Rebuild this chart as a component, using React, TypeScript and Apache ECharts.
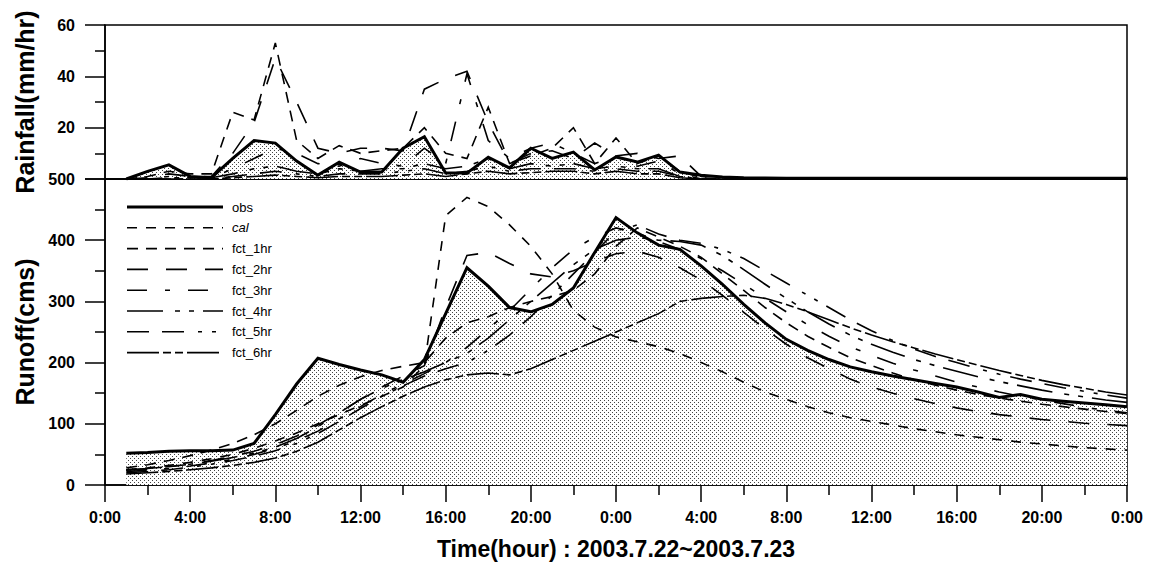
import React, { useEffect, useRef } from "react";
import * as echarts from "echarts";

// Hourly time steps (hour 1 .. hour 48) over 2003.7.22 ~ 2003.7.23
const HOURS: number[] = Array.from({ length: 48 }, (_, i) => i + 1);

// Observed rainfall (mm/hr)
const rainObs = [0, 3, 5.5, 1, 0.5, 8, 15, 14, 7, 1.5, 6.5, 2.7, 2.7, 12, 16.5, 2.3, 2.3, 8.5, 4.3, 12, 8, 10.5, 3.5, 8.6, 6.6, 9.3, 2.7, 1.5, 0.8, 0.5, 0.4, 0.3, 0.3, 0.3, 0.3, 0.3, 0.3, 0.3, 0.3, 0.3, 0.3, 0.3, 0.3, 0.3, 0.3, 0.3, 0.3, 0.3];
// Forecast rainfall by lead time (mm/hr)
const rainFct1 = [0, 1, 3, 2, 2, 26, 23, 53, 15, 8, 13, 10, 11, 12, 20, 10, 8, 28, 6, 9, 12, 20, 6, 16, 6, 9, 3, 0.5, 0, 0, 0, 0, 0, 0, 0, 0, 0, 0, 0, 0, 0, 0, 0, 0, 0, 0, 0, 0];
const rainFct2 = [0, 0.5, 2, 1, 1, 10, 22, 47, 30, 12, 10, 12, 12, 11, 35, 39, 42, 22, 6, 10, 11, 8, 14, 9, 10, 8, 9, 1, 0, 0, 0, 0, 0, 0, 0, 0, 0, 0, 0, 0, 0, 0, 0, 0, 0, 0, 0, 0];
const rainFct3 = [0, 0, 1, 0.5, 0.5, 4, 8, 12, 10, 6, 5, 8, 6, 5, 12, 6, 41, 15, 8, 12, 14, 10, 6, 9, 5, 7, 2, 0, 0, 0, 0, 0, 0, 0, 0, 0, 0, 0, 0, 0, 0, 0, 0, 0, 0, 0, 0, 0];
const rainFct4 = [0, 0, 0.5, 0.5, 0.5, 2, 4, 5, 3, 2, 4, 3, 4, 4, 6, 4, 5, 8, 4, 6, 5, 6, 4, 5, 4, 4, 1, 0, 0, 0, 0, 0, 0, 0, 0, 0, 0, 0, 0, 0, 0, 0, 0, 0, 0, 0, 0, 0];
const rainFct5 = [0, 0, 0, 0, 0, 1, 2, 3, 2, 1, 2, 2, 2, 3, 4, 2, 3, 5, 3, 4, 4, 4, 3, 4, 3, 3, 1, 0, 0, 0, 0, 0, 0, 0, 0, 0, 0, 0, 0, 0, 0, 0, 0, 0, 0, 0, 0, 0];
const rainFct6 = [0, 0, 0, 0, 0, 0.5, 1, 1.5, 1, 0.5, 1, 1, 1, 1.5, 2, 1, 2, 3, 2, 2.5, 3, 3, 2, 3, 2, 2, 0.5, 0, 0, 0, 0, 0, 0, 0, 0, 0, 0, 0, 0, 0, 0, 0, 0, 0, 0, 0, 0, 0];

// Runoff (cms)
const runoffObs = [52, 53, 55, 56, 56, 57, 68, 115, 165, 207, 197, 188, 180, 168, 205, 280, 355, 325, 290, 283, 295, 322, 380, 437, 412, 392, 385, 358, 328, 295, 265, 238, 220, 205, 193, 185, 178, 172, 166, 160, 152, 143, 148, 140, 137, 134, 131, 128];
const runoffCal = [25, 28, 32, 37, 43, 50, 60, 72, 85, 100, 115, 130, 145, 160, 195, 440, 470, 455, 425, 390, 345, 285, 258, 242, 234, 226, 215, 200, 185, 168, 152, 140, 128, 118, 110, 104, 98, 92, 87, 82, 78, 74, 70, 67, 64, 61, 59, 57];
const runoffFct1 = [28, 33, 40, 48, 57, 68, 82, 100, 122, 145, 163, 177, 187, 194, 200, 240, 265, 275, 290, 300, 308, 318, 345, 390, 420, 405, 390, 372, 345, 318, 290, 265, 243, 225, 208, 195, 183, 172, 163, 155, 148, 142, 137, 132, 128, 124, 120, 117];
const runoffFct2 = [24, 26, 30, 34, 40, 47, 55, 66, 80, 98, 118, 140, 160, 178, 195, 290, 375, 380, 362, 345, 340, 350, 365, 378, 382, 372, 355, 335, 310, 282, 255, 230, 208, 190, 173, 160, 150, 141, 133, 126, 120, 115, 111, 107, 104, 101, 99, 97];
const runoffFct3 = [22, 24, 27, 31, 36, 42, 50, 60, 72, 88, 108, 128, 148, 165, 182, 200, 225, 255, 285, 320, 355, 385, 405, 420, 412, 398, 385, 370, 350, 328, 305, 283, 262, 243, 226, 212, 199, 188, 178, 168, 160, 152, 145, 139, 133, 127, 122, 118];
const runoffFct4 = [25, 27, 30, 34, 39, 45, 52, 62, 76, 95, 118, 140, 158, 172, 185, 200, 215, 240, 270, 300, 330, 360, 385, 400, 405, 400, 398, 392, 375, 352, 328, 305, 283, 263, 245, 230, 217, 205, 195, 186, 177, 169, 162, 155, 149, 144, 139, 135];
const runoffFct5 = [20, 22, 25, 29, 34, 40, 47, 56, 68, 84, 104, 125, 145, 162, 178, 190, 200, 220, 245, 275, 310, 345, 380, 415, 425, 410, 400, 395, 385, 370, 350, 330, 310, 290, 270, 252, 236, 222, 210, 200, 190, 181, 173, 166, 159, 153, 147, 142];
const runoffFct6 = [18, 20, 22, 25, 28, 32, 37, 44, 55, 70, 90, 110, 128, 145, 160, 172, 180, 183, 180, 190, 205, 220, 235, 250, 265, 280, 300, 305, 308, 310, 305, 295, 283, 270, 257, 245, 234, 224, 214, 205, 196, 187, 179, 171, 164, 158, 152, 147];

const SERIES_NAMES = ["obs", "cal", "fct_1hr", "fct_2hr", "fct_3hr", "fct_4hr", "fct_5hr", "fct_6hr"];

const LINE_STYLES: Record<string, { width: number; dash: any }> = {
  obs: { width: 3, dash: "solid" },
  cal: { width: 1.6, dash: [10, 9] },
  fct_1hr: { width: 1.6, dash: [11, 8] },
  fct_2hr: { width: 1.6, dash: [21, 18] },
  fct_3hr: { width: 1.6, dash: [20, 18, 5, 18] },
  fct_4hr: { width: 1.6, dash: [36, 12, 5, 9, 5, 9] },
  fct_5hr: { width: 1.6, dash: [22, 13, 22, 14, 4, 10, 4, 10] },
  fct_6hr: { width: 1.6, dash: [32, 4, 8, 4, 8, 4] },
};

const FONT = "'Liberation Sans', Arial, sans-serif";

const pairs = (vals: number[]) => HOURS.map((h, i) => [h, vals[i]]);

export default function App() {
  const ref = useRef<HTMLDivElement>(null);

  useEffect(() => {
    if (!ref.current) return;
    const chart = echarts.init(ref.current, undefined, { renderer: "svg" });

    // stipple tile for the observed area fill
    const tile = document.createElement("canvas");
    tile.width = 4;
    tile.height = 4;
    const ctx = tile.getContext("2d")!;
    ctx.fillStyle = "#ffffff";
    ctx.fillRect(0, 0, 4, 4);
    ctx.fillStyle = "#444444";
    ctx.fillRect(0, 0, 1, 1);
    ctx.fillRect(2, 2, 1, 1);
    const stipple: any = { image: tile, repeat: "repeat", imageWidth: 4, imageHeight: 4 };

    const black = { color: "#000", width: 1.5 };
    const tickText = { color: "#000", fontFamily: FONT, fontWeight: "bold", fontSize: 16 };
    const titleText = { color: "#000", fontFamily: FONT, fontWeight: "bold", fontSize: 25 };

    const line = (name: string, vals: number[], grid: number, z = 3) => ({
      name,
      type: "line",
      xAxisIndex: grid,
      yAxisIndex: grid,
      data: pairs(vals),
      symbol: "none",
      showSymbol: false,
      silent: true,
      z,
      lineStyle: {
        color: "#000",
        width: LINE_STYLES[name].width,
        type: LINE_STYLES[name].dash,
        cap: "butt",
        join: "miter",
      },
    });

    const area = (vals: number[], grid: number) => ({
      type: "line",
      xAxisIndex: grid,
      yAxisIndex: grid,
      data: pairs(vals),
      symbol: "none",
      showSymbol: false,
      silent: true,
      z: 1,
      lineStyle: { width: 0, opacity: 0 },
      areaStyle: { color: stipple, opacity: 1 },
    });

    // legend rows (line sample + label)
    const legendChildren: any[] = [];
    SERIES_NAMES.forEach((name, i) => {
      const y = 207 + i * 20.8;
      const st = LINE_STYLES[name];
      legendChildren.push({
        type: "line",
        shape: { x1: 127, y1: y, x2: 223, y2: y },
        style: {
          stroke: "#000",
          lineWidth: st.width,
          lineDash: st.dash === "solid" ? null : st.dash,
          lineCap: "butt",
        },
      });
      legendChildren.push({
        type: "text",
        x: 232,
        y,
        style: {
          text: name,
          fill: "#000",
          fontFamily: FONT,
          fontSize: 13,
          fontStyle: name === "cal" ? "italic" : "normal",
          verticalAlign: "middle",
          align: "left",
        },
      });
    });

    chart.setOption({
      animation: false,
      backgroundColor: "#fff",
      grid: [
        { left: 105, top: 25, width: 1022, height: 154, show: true, borderColor: "#000", borderWidth: 1.5, backgroundColor: "transparent" },
        { left: 105, top: 179, width: 1022, height: 306, show: true, borderColor: "#000", borderWidth: 1.5, backgroundColor: "transparent" },
      ],
      xAxis: [
        {
          gridIndex: 0,
          type: "value",
          min: 0,
          max: 48,
          interval: 4,
          axisLine: { show: true, onZero: false, lineStyle: black },
          axisTick: { show: false },
          axisLabel: { show: false },
          splitLine: { show: false },
        },
        {
          gridIndex: 1,
          type: "value",
          min: 0,
          max: 48,
          interval: 4,
          axisLine: { show: true, onZero: false, lineStyle: black },
          axisTick: { show: true, length: 17, lineStyle: black },
          minorTick: { show: true, splitNumber: 2, length: 10, lineStyle: black },
          axisLabel: { ...tickText, margin: 24, formatter: (v: number) => `${v % 24}:00` },
          splitLine: { show: false },
          name: "Time(hour) : 2003.7.22~2003.7.23",
          nameLocation: "middle",
          nameGap: 52,
          nameTextStyle: { ...titleText, fontSize: 23 },
        },
      ],
      yAxis: [
        {
          gridIndex: 0,
          type: "value",
          min: 0,
          max: 60,
          interval: 20,
          axisLine: { show: true, onZero: false, lineStyle: black },
          axisTick: { show: true, length: 20, lineStyle: black },
          minorTick: { show: true, splitNumber: 2, length: 10, lineStyle: black },
          axisLabel: { ...tickText, margin: 30, showMinLabel: false, formatter: (v: number) => (v === 0 ? "" : String(v)) },
          splitLine: { show: false },
          name: "Rainfall(mm/hr)",
          nameLocation: "middle",
          nameRotate: 90,
          nameGap: 68,
          nameTextStyle: titleText,
        },
        {
          gridIndex: 1,
          type: "value",
          min: 0,
          max: 500,
          interval: 100,
          axisLine: { show: true, onZero: false, lineStyle: black },
          axisTick: { show: true, length: 20, lineStyle: black },
          minorTick: { show: true, splitNumber: 2, length: 10, lineStyle: black },
          axisLabel: { ...tickText, margin: 30 },
          splitLine: { show: false },
          name: "Runoff(cms)",
          nameLocation: "middle",
          nameRotate: 90,
          nameGap: 68,
          nameTextStyle: titleText,
        },
      ],
      series: [
        area(rainObs, 0),
        line("fct_6hr", rainFct6, 0),
        line("fct_5hr", rainFct5, 0),
        line("fct_4hr", rainFct4, 0),
        line("fct_3hr", rainFct3, 0),
        line("fct_2hr", rainFct2, 0),
        line("fct_1hr", rainFct1, 0),
        line("obs", rainObs, 0, 5),
        area(runoffObs, 1),
        line("cal", runoffCal, 1),
        line("fct_1hr", runoffFct1, 1),
        line("fct_2hr", runoffFct2, 1),
        line("fct_3hr", runoffFct3, 1),
        line("fct_4hr", runoffFct4, 1),
        line("fct_5hr", runoffFct5, 1),
        line("fct_6hr", runoffFct6, 1),
        line("obs", runoffObs, 1, 5),
      ],
      graphic: [{ type: "group", children: legendChildren, z: 10 }],
    });

    return () => chart.dispose();
  }, []);

  return (
    <div
      ref={ref}
      style={{ position: "absolute", left: 0, top: 0, width: 1150, height: 565, background: "#fff" }}
    />
  );
}
